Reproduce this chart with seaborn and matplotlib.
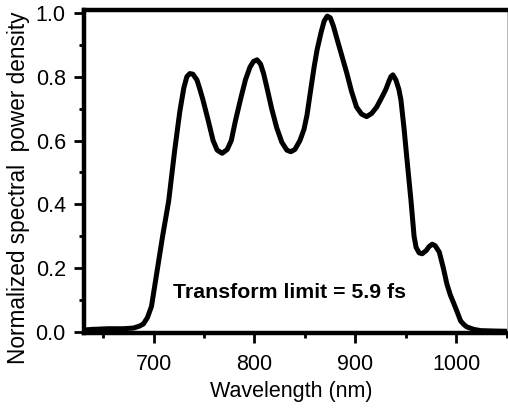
import seaborn as sns
import matplotlib.pyplot as plt
import pandas as pd
from matplotlib.ticker import MultipleLocator

# Spectrum
wavelength = [631, 640, 655, 670, 680, 686, 690, 694, 698, 703.5, 709, 715, 721, 726, 730,
              733, 736, 739, 743, 746, 749, 754, 759, 763, 768, 773, 777, 781, 786,
              791, 795.5, 799, 802.5, 806, 809, 812, 817, 822, 827, 832, 836, 840, 845,
              849, 852, 855, 859, 862, 866, 869, 872, 875, 878, 882, 887, 891.5, 896,
              901, 906, 911, 916, 921, 926, 930, 933, 935, 937, 940, 943, 945, 948, 951,
              955, 958, 960, 963, 966, 970, 973, 976, 979, 983, 987, 990.5, 994, 997.5,
              1001, 1004, 1007, 1010, 1017, 1024, 1035, 1050]
density = [0.006, 0.008, 0.010, 0.010, 0.012, 0.018, 0.025, 0.045, 0.08, 0.19, 0.30, 0.41,
           0.57, 0.69, 0.765, 0.80, 0.81, 0.808, 0.79, 0.76, 0.727, 0.665, 0.60, 0.57,
           0.56, 0.572, 0.60, 0.66, 0.727, 0.79, 0.83, 0.848, 0.853, 0.84, 0.81, 0.77,
           0.70, 0.64, 0.595, 0.57, 0.565, 0.572, 0.60, 0.635, 0.68, 0.745, 0.83, 0.885,
           0.94, 0.975, 0.99, 0.985, 0.96, 0.915, 0.86, 0.81, 0.755, 0.705, 0.683, 0.675,
           0.685, 0.705, 0.735, 0.76, 0.785, 0.80, 0.806, 0.79, 0.76, 0.727, 0.64, 0.54,
           0.41, 0.30, 0.265, 0.248, 0.245, 0.255, 0.268, 0.275, 0.27, 0.25, 0.20, 0.15,
           0.115, 0.088, 0.06, 0.035, 0.024, 0.016, 0.008, 0.004, 0.003, 0.002]

df = pd.DataFrame({'Wavelength': wavelength, 'Density': density})

sns.set_style("ticks")
plt.rcParams['font.family'] = ['Liberation Sans', 'DejaVu Sans']
plt.rcParams['text.color'] = 'black'
plt.rcParams['axes.labelcolor'] = 'black'
plt.rcParams['xtick.color'] = 'black'
plt.rcParams['ytick.color'] = 'black'

fig = plt.figure(figsize=(5.08, 4.08), dpi=100)
ax = fig.add_axes([0.165, 0.1826, 0.833, 0.793])

sns.lineplot(x='Wavelength', y='Density', data=df, color='black', linewidth=3.6,
             solid_joinstyle='round', solid_capstyle='round', ax=ax)

ax.set_xlim(631, 1050)
ax.set_ylim(-0.005, 1.0094)
ax.xaxis.set_major_locator(MultipleLocator(100))
ax.xaxis.set_minor_locator(MultipleLocator(50))
ax.yaxis.set_major_locator(MultipleLocator(0.2))
ax.yaxis.set_minor_locator(MultipleLocator(0.1))
ax.yaxis.set_major_formatter(plt.FormatStrFormatter('%.1f'))

ax.tick_params(which='major', length=7, width=2, labelsize=15.5, color='black',
               labelcolor='black')
ax.tick_params(axis='x', which='major', pad=8)
ax.tick_params(axis='y', which='major', pad=6)
ax.tick_params(which='minor', length=3.5, width=2, color='black')

for side in ['left', 'bottom', 'top']:
    ax.spines[side].set_linewidth(3.2)
    ax.spines[side].set_color('black')
ax.spines['right'].set_linewidth(0.6)
ax.spines['right'].set_color('#aaaaaa')

ax.set_xlabel('Wavelength (nm)', fontsize=15.5)
ax.set_ylabel('Normalized spectral  power density', fontsize=16.3)
ax.xaxis.set_label_coords(0.49, -0.146)
ax.yaxis.set_label_coords(-0.128, 0.451)

ax.text(719, 0.122, 'Transform limit = 5.9 fs', fontsize=15.3, fontweight='bold',
        va='center', ha='left')

plt.savefig('out.png', dpi=100)
